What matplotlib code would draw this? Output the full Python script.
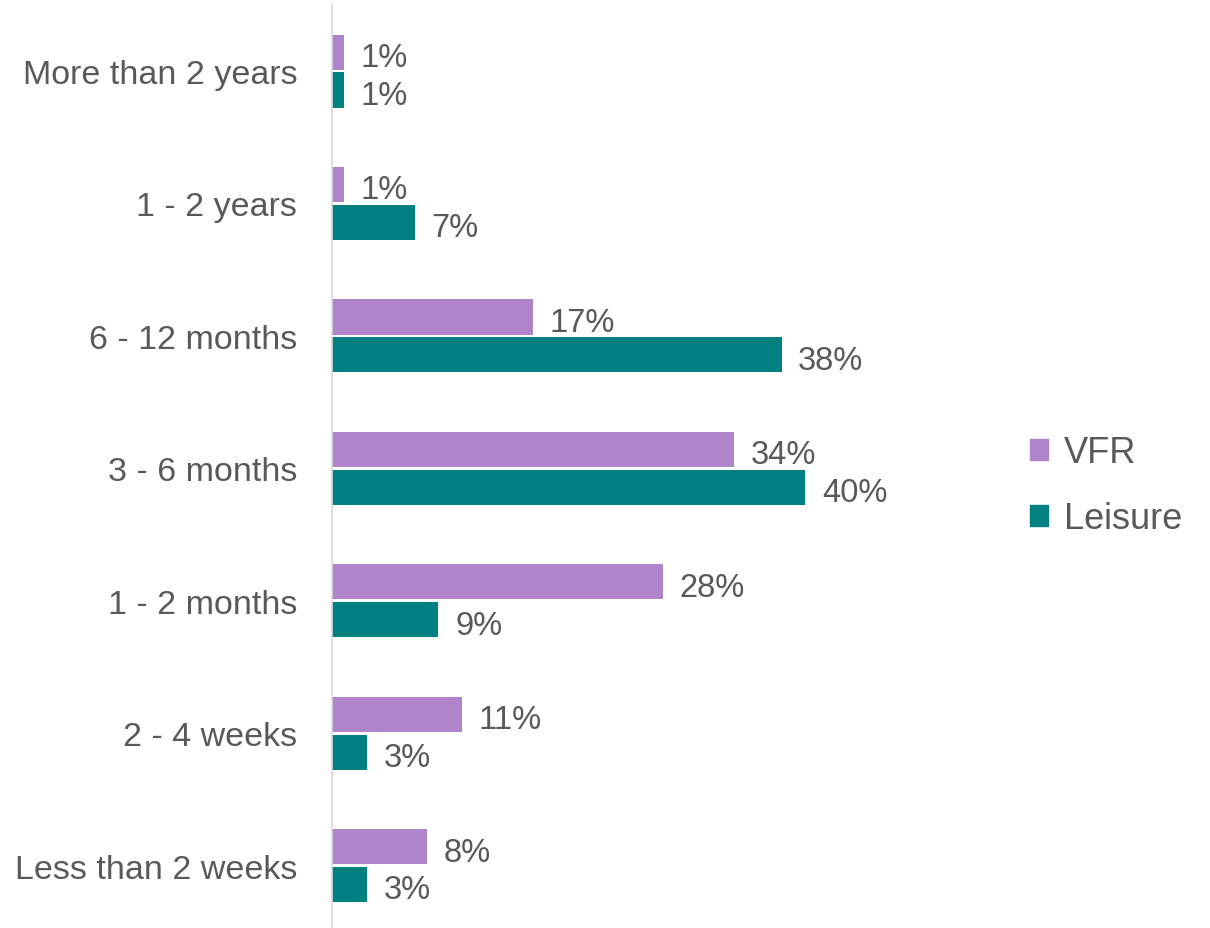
import numpy as np
import matplotlib.pyplot as plt
from matplotlib.patches import Patch

plt.rcParams['font.family'] = ['Liberation Sans', 'DejaVu Sans']

categories = ['More than 2 years', '1 - 2 years', '6 - 12 months', '3 - 6 months',
              '1 - 2 months', '2 - 4 weeks', 'Less than 2 weeks']
vfr = [1, 1, 17, 34, 28, 11, 8]
leisure = [1, 7, 38, 40, 9, 3, 3]

purple = '#AF84CB'
teal = '#008080'
text_col = '#595959'

fig = plt.figure(figsize=(12.1, 9.29), dpi=100)
ax = fig.add_axes([332 / 1210, 0.0, 591.5 / 1210, 1 - 5 / 929])

y = np.arange(len(categories))
h = 0.265
off = 0.143
ax.barh(y - off, vfr, height=h, color=purple, label='VFR')
ax.barh(y + off, leisure, height=h, color=teal, label='Leisure')

for yi, v in zip(y, vfr):
    ax.text(v + 1.4, yi - off + 0.04, f'{v}%', va='center', ha='left', fontsize=23.5, color=text_col)
for yi, v in zip(y, leisure):
    ax.text(v + 1.4, yi + off + 0.04, f'{v}%', va='center', ha='left', fontsize=23.5, color=text_col)

ax.set_xlim(0, 50)
ax.set_ylim(6.47, -0.506)
ax.set_yticks(y)
ax.set_yticklabels(categories, fontsize=24.5, color=text_col)
ax.tick_params(axis='y', length=0, pad=25)
ax.set_xticks([])
for s in ['top', 'right', 'bottom']:
    ax.spines[s].set_visible(False)
ax.spines['left'].set_color('#D9D9D9')
ax.spines['left'].set_linewidth(1.2)

handles = [Patch(color=purple, label='VFR'), Patch(color=teal, label='Leisure')]
fig.legend(handles=handles, loc='center left', bbox_to_anchor=(997 / 1210, 0.476),
           frameon=False, fontsize=26, labelcolor=text_col, handlelength=0.5,
           handleheight=0.5, handletextpad=0.45, labelspacing=0.85)

fig.savefig('out.png', dpi=100)
